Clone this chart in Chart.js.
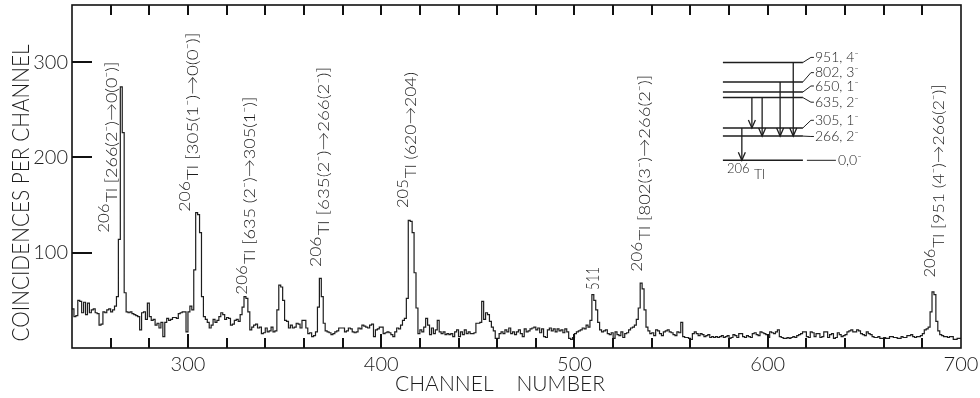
<!DOCTYPE html>
<html>
<head>
<meta charset="utf-8">
<script src="https://cdn.jsdelivr.net/npm/chart.js@4.4.1/dist/chart.umd.min.js"></script>
<style>
    html, body { margin: 0; padding: 0; background: #fff; }
    #wrap { width: 980px; height: 398px; position: relative; }
</style>
</head>
<body>
<div id="wrap"><canvas id="spectre"></canvas></div>
<script>
// Spectre de coïncidences : un comptage par canal, du canal 240 au canal 700
const firstChannel = 240;
const counts = [
    41, 33, 34, 50, 49, 37, 48, 35, 47, 37,   // 240
    40, 41, 37, 36, 24, 25, 38, 37, 40, 41,   // 250
    38, 40, 44, 54, 114, 274, 226, 58, 38, 37, // 260
    38, 36, 35, 34, 33, 19, 37, 38, 30, 47,   // 270
    33, 29, 30, 24, 26, 21, 27, 12, 27, 31,   // 280
    29, 30, 32, 32, 31, 36, 37, 38, 38, 17,   // 290
    38, 44, 40, 82, 142, 140, 121, 54, 33, 30, // 300
    27, 21, 24, 30, 27, 29, 33, 37, 35, 30,   // 310
    32, 31, 24, 25, 29, 30, 28, 35, 43, 54,   // 320
    52, 38, 19, 22, 24, 25, 21, 22, 15, 16,   // 330
    21, 17, 18, 22, 17, 18, 40, 66, 64, 50,   // 340
    29, 28, 21, 24, 21, 22, 26, 25, 21, 29,   // 350
    29, 21, 15, 16, 12, 13, 17, 43, 73, 54,   // 360
    26, 18, 17, 16, 14, 15, 17, 18, 21, 21,   // 370
    21, 17, 18, 21, 20, 17, 16, 17, 21, 20,   // 380
    24, 23, 22, 21, 24, 25, 12, 19, 20, 22,   // 390
    22, 15, 16, 17, 16, 14, 12, 17, 21, 20,   // 400
    24, 29, 31, 52, 134, 133, 121, 79, 42, 15, // 410
    19, 17, 22, 31, 24, 14, 21, 15, 19, 29,   // 420
    17, 15, 17, 14, 15, 14, 15, 12, 17, 19,   // 430
    12, 17, 14, 19, 15, 17, 15, 15, 16, 26,   // 440
    26, 27, 49, 30, 37, 35, 28, 22, 18, 10,   // 450
    10, 15, 17, 15, 19, 17, 21, 15, 17, 14,   // 460
    17, 19, 15, 12, 20, 17, 18, 20, 21, 22,   // 470
    19, 21, 16, 20, 12, 11, 19, 21, 18, 20,   // 480
    17, 20, 18, 19, 16, 20, 17, 10, 9, 11,    // 490
    15, 17, 18, 19, 21, 20, 24, 22, 29, 56,   // 500
    50, 40, 27, 19, 17, 18, 19, 15, 14, 16,   // 510
    10, 17, 14, 13, 17, 11, 15, 16, 19, 21,   // 520
    22, 24, 30, 42, 68, 62, 40, 22, 18, 15,   // 530
    16, 13, 19, 18, 15, 13, 17, 18, 19, 17,   // 540
    16, 14, 13, 17, 16, 27, 12, 11, 11, 10,   // 550
    9, 15, 17, 15, 13, 15, 14, 12, 13, 14,    // 560
    11, 12, 11, 12, 11, 12, 13, 11, 12, 13,   // 570
    10, 11, 14, 13, 11, 15, 15, 12, 11, 13,   // 580
    12, 11, 15, 16, 14, 13, 17, 16, 15, 14,   // 590
    11, 17, 16, 15, 17, 19, 12, 11, 10, 10,   // 600
    11, 10, 11, 12, 11, 13, 14, 15, 17, 17,   // 610
    12, 11, 17, 16, 12, 15, 15, 11, 12, 17,   // 620
    17, 11, 14, 15, 10, 11, 16, 14, 12, 13,   // 630
    14, 17, 18, 19, 17, 17, 19, 18, 15, 14,   // 640
    13, 17, 15, 14, 12, 11, 11, 12, 10, 10,   // 650
    11, 10, 10, 12, 12, 11, 11, 10, 10, 12,   // 660
    11, 11, 13, 13, 14, 12, 11, 12, 12, 13,   // 670
    15, 19, 20, 22, 38, 59, 56, 28, 18, 14,   // 680
    13, 12, 12, 11, 12, 12, 9, 9, 10, 10,     // 690
    10                                        // 700
];
const channels = counts.map((_, i) => firstChannel + i);

// Graduations
const xTickStep = 20;
const xTickLabels = [300, 400, 500, 600, 700];
const yTickLabels = [100, 200, 300];

// Identification des pics
const peakMasses = ['206', '206', '206', '206', '205', '', '206', '206'];
const peakTexts = [
    'Tl [266(2⁻)→0(0⁻)]',
    'Tl [305(1⁻)→0(0⁻)]',
    'Tl [635 (2⁻)→305(1⁻)]',
    'Tl [635(2⁻)→266(2⁻)]',
    'Tl (620→204)',
    '511',
    'Tl [802(3⁻)→266(2⁻)]',
    'Tl [951 (4⁻)→266(2⁻)]'
];

// Schéma de niveaux du 206Tl (keV, spin-parité) et transitions
const levelEnergies = [0, 266, 305, 635, 650, 802, 951];
const levelSpins = ['0⁻', '2⁻', '1⁻', '2⁻', '1⁻', '3⁻', '4⁻'];
const transitions = [[951, 266], [802, 266], [635, 266], [635, 305], [305, 0]];

const FONT = '"Lato", "DejaVu Sans", sans-serif';
const INK = '#1d1d1d';

// Position des étiquettes : canal du centre de la colonne, comptage du début, longueur en px
const peakAnchors = [
    [260.7, 121], [302.6, 143], [332, 56], [370.4, 85],
    [415.4, 147], [509.8, 61], [536.4, 80], [688.3, 74]
];
const peakLengths = [171, 179, 198, 200, 136, 23, 197, 193];

// Placement du schéma de niveaux (en canaux / comptages)
const scheme = {
    from: 576.8, to: 618.2,
    rows: [197, 222.4, 231, 262.8, 268.7, 279.3, 299.7],
    labelRows: [197, 222, 239, 258, 275, 289, 305],
    arrows: [613.2, 606.4, 597.1, 591.8, 586.6]
};

function drawText(ctx, text, x, y, size, opts = {}) {
    ctx.save();
    ctx.translate(x, y);
    if (opts.rotate) ctx.rotate(opts.rotate);
    ctx.font = `300 ${size}px ${FONT}`;
    let sx = opts.squeeze || 1;
    if (opts.fit) sx = opts.fit / ctx.measureText(text).width;
    ctx.scale(sx, 1);
    ctx.textAlign = opts.align || 'left';
    ctx.textBaseline = opts.baseline || 'middle';
    ctx.fillStyle = INK;
    ctx.fillText(text, 0, 0);
    ctx.restore();
}

function segment(ctx, x1, y1, x2, y2) {
    ctx.beginPath();
    ctx.moveTo(x1, y1);
    ctx.lineTo(x2, y2);
    ctx.stroke();
}

// Étiquette verticale d'un pic : masse en exposant puis texte, étirés sur la longueur voulue
function drawPeakLabel(ctx, px, py, mass, text, length) {
    ctx.save();
    ctx.translate(px, py);
    ctx.rotate(-Math.PI / 2);
    ctx.fillStyle = INK;
    ctx.textBaseline = 'middle';
    const massFont = `300 15px ${FONT}`;
    const textFont = mass ? `300 16px ${FONT}` : `300 18px ${FONT}`;
    ctx.font = massFont;
    const mw = mass ? ctx.measureText(mass).width + 1 : 0;
    ctx.font = textFont;
    const tw = ctx.measureText(text).width;
    ctx.scale(length / (mw + tw), 1);
    if (mass) {
        ctx.font = massFont;
        ctx.fillText(mass, 0, -8);
    }
    ctx.font = textFont;
    ctx.fillText(text, mw, 0);
    ctx.restore();
}

function drawLevelScheme(ctx, xs, ys) {
    const left = xs.getPixelForValue(scheme.from);
    const right = xs.getPixelForValue(scheme.to);
    const levelY = e => ys.getPixelForValue(scheme.rows[levelEnergies.indexOf(e)]);
    ctx.save();
    ctx.strokeStyle = INK;
    levelEnergies.forEach((e, i) => {
        const y = levelY(e);
        const ly = ys.getPixelForValue(scheme.labelRows[i]);
        ctx.lineWidth = 1.5;
        segment(ctx, left, y, right, y);
        ctx.lineWidth = 1;
        if (e === 0) {
            segment(ctx, right + 4, y, right + 33, y);
            drawText(ctx, `${e},${levelSpins[i]}`, right + 35, ly, 14);
        } else {
            ctx.beginPath();
            ctx.moveTo(right, y);
            ctx.lineTo(right + 8, ly);
            ctx.lineTo(right + 11, ly);
            ctx.stroke();
            drawText(ctx, `${e}, ${levelSpins[i]}`, right + 12, ly, 14);
        }
    });
    transitions.forEach(([hi, lo], k) => {
        const x = xs.getPixelForValue(scheme.arrows[k]);
        const y1 = levelY(hi), y2 = levelY(lo);
        ctx.lineWidth = 1.3;
        segment(ctx, x, y1, x, y2);
        ctx.beginPath();
        ctx.moveTo(x - 3.5, y2 - 8);
        ctx.lineTo(x, y2);
        ctx.lineTo(x + 3.5, y2 - 8);
        ctx.stroke();
    });
    const base = levelY(0);
    drawText(ctx, '206', left + 4, base + 9, 13);
    drawText(ctx, 'Tl', left + 31, base + 14, 14);
    ctx.restore();
}

// Cadre
function drawFrame(c, area) {
    c.save();
    c.strokeStyle = '#111';
    c.lineWidth = 1.6;
    c.strokeRect(area.left, area.top, area.right - area.left, area.bottom - area.top);
    c.restore();
}

// Graduations intérieures : tous les 20 canaux en haut et en bas, plus longues aux centaines
function drawTicks(c, area, xs, ys) {
    c.save();
    c.fillStyle = '#111';
    for (let v = firstChannel + xTickStep; v < firstChannel + channels.length - 1; v += xTickStep) {
        const x = Math.round(xs.getPixelForValue(v));
        const len = xTickLabels.includes(v) ? 14 : 10;
        c.fillRect(x - 1, area.bottom - len, 2, len);
        c.fillRect(x - 1, area.top, 2, 10);
    }
    yTickLabels.forEach(v => {
        const y = Math.round(ys.getPixelForValue(v));
        c.fillRect(area.left, y - 1, 20, 2);
    });
    c.restore();
}

// Cadre, étiquettes des pics, schéma de niveaux et titres des axes
const decorPlugin = {
    id: 'decor',
    afterDraw(chart) {
        const c = chart.ctx;
        const area = chart.chartArea;
        const xs = chart.scales.x;
        const ys = chart.scales.y;

        drawFrame(c, area);
        drawTicks(c, area, xs, ys);

        c.save();
        peakTexts.forEach((text, i) => {
            const [ch, n] = peakAnchors[i];
            drawPeakLabel(c, xs.getPixelForValue(ch), ys.getPixelForValue(n),
                peakMasses[i], text, peakLengths[i]);
        });

        drawLevelScheme(c, xs, ys);

        drawText(c, 'COINCIDENCES PER CHANNEL', area.left - 51, area.top + 188, 24,
            { rotate: -Math.PI / 2, align: 'center', fit: 297 });
        drawText(c, 'CHANNEL    NUMBER', area.left + 428, area.bottom + 36, 22,
            { align: 'center', fit: 210 });
        c.restore();
    }
};

const ctx = document.getElementById('spectre').getContext('2d');
new Chart(ctx, {
    type: 'line',
    data: {
        datasets: [{
            data: channels.map((ch, i) => ({ x: ch, y: counts[i] })),
            stepped: true,
            borderColor: INK,
            borderWidth: 1.2,
            pointRadius: 0,
            fill: false
        }]
    },
    options: {
        responsive: true,
        maintainAspectRatio: false,
        animation: false,
        layout: { padding: { top: 5, right: 19, left: 0, bottom: 0 } },
        plugins: {
            legend: { display: false },
            tooltip: { enabled: false }
        },
        scales: {
            x: {
                type: 'linear',
                min: 240,
                max: 700,
                grid: { display: false, drawTicks: false },
                border: { display: false },
                ticks: {
                    stepSize: xTickStep,
                    autoSkip: false,
                    maxRotation: 0,
                    padding: 5,
                    color: INK,
                    font: { family: FONT, size: 20, weight: 300 },
                    callback: v => xTickLabels.includes(v) ? String(v) : ''
                },
                afterFit: s => { s.height = 50; s.paddingLeft = 0; s.paddingRight = 0; }
            },
            y: {
                min: 0,
                max: 360,
                grid: { display: false, drawTicks: false },
                border: { display: false },
                ticks: {
                    stepSize: 100,
                    padding: 4,
                    color: INK,
                    font: { family: FONT, size: 20, weight: 300 },
                    callback: v => yTickLabels.includes(v) ? String(v) : ''
                },
                afterFit: s => { s.width = 72; s.paddingTop = 0; s.paddingBottom = 0; }
            }
        }
    },
    plugins: [decorPlugin]
});
</script>
</body>
</html>
